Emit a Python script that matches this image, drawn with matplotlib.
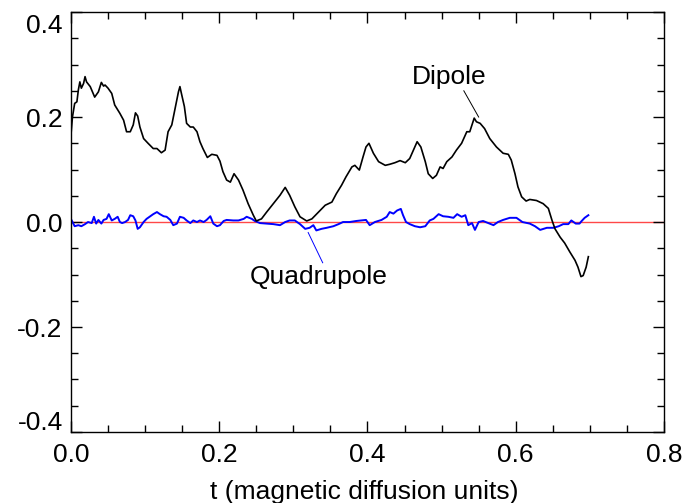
import matplotlib.pyplot as plt
from matplotlib.ticker import MultipleLocator
from matplotlib.transforms import ScaledTranslation

plt.rcParams['font.family'] = ['Liberation Sans', 'DejaVu Sans']

# dipole coefficient vs time
t_dip = [0.000, 0.002, 0.005, 0.008, 0.010, 0.012, 0.014, 0.017, 0.019, 0.021,
         0.026, 0.032, 0.037, 0.041, 0.044, 0.046, 0.050, 0.055, 0.059, 0.066,
         0.071, 0.075, 0.080, 0.084, 0.087, 0.090, 0.093, 0.098, 0.104, 0.111,
         0.116, 0.122, 0.127, 0.131, 0.136, 0.140, 0.145, 0.147, 0.149, 0.153,
         0.156, 0.161, 0.165, 0.170, 0.174, 0.178, 0.184, 0.190, 0.197, 0.201,
         0.205, 0.210, 0.215, 0.220, 0.226, 0.232, 0.239, 0.246, 0.250, 0.257,
         0.264, 0.273, 0.282, 0.289, 0.295, 0.302, 0.309, 0.318, 0.325, 0.334,
         0.343, 0.352, 0.358, 0.365, 0.371, 0.379, 0.383, 0.389, 0.394, 0.398,
         0.402, 0.408, 0.415, 0.424, 0.430, 0.437, 0.444, 0.451, 0.457, 0.462,
         0.467, 0.472, 0.478, 0.482, 0.488, 0.493, 0.498, 0.502, 0.507, 0.514,
         0.520, 0.527, 0.534, 0.538, 0.541, 0.544, 0.547, 0.552, 0.558, 0.565,
         0.574, 0.583, 0.590, 0.594, 0.599, 0.603, 0.608, 0.614, 0.619, 0.628,
         0.637, 0.644, 0.649, 0.653, 0.660, 0.666, 0.673, 0.680, 0.684, 0.688,
         0.691, 0.695, 0.698]
dipole = [0.166, 0.200, 0.226, 0.229, 0.252, 0.267, 0.255, 0.264, 0.277, 0.267,
          0.258, 0.238, 0.248, 0.266, 0.259, 0.261, 0.255, 0.245, 0.223, 0.207,
          0.194, 0.172, 0.172, 0.185, 0.208, 0.202, 0.181, 0.159, 0.150, 0.140,
          0.140, 0.132, 0.137, 0.172, 0.185, 0.213, 0.248, 0.258, 0.245, 0.220,
          0.188, 0.181, 0.181, 0.172, 0.153, 0.140, 0.123, 0.129, 0.127, 0.116,
          0.096, 0.080, 0.076, 0.092, 0.080, 0.061, 0.035, 0.013, 0.002, 0.006,
          0.019, 0.035, 0.051, 0.066, 0.051, 0.029, 0.010, 0.002, 0.006, 0.019,
          0.032, 0.038, 0.054, 0.070, 0.086, 0.105, 0.108, 0.099, 0.124, 0.143,
          0.150, 0.131, 0.115, 0.108, 0.110, 0.113, 0.117, 0.113, 0.121, 0.137,
          0.153, 0.143, 0.115, 0.092, 0.083, 0.089, 0.105, 0.102, 0.115, 0.124,
          0.137, 0.150, 0.172, 0.172, 0.185, 0.198, 0.191, 0.188, 0.178, 0.159,
          0.143, 0.131, 0.129, 0.118, 0.092, 0.067, 0.048, 0.040, 0.043, 0.041,
          0.035, 0.026, 0.003, -0.013, -0.029, -0.040, -0.057, -0.073, -0.086, -0.104,
          -0.102, -0.086, -0.066]

# quadrupole coefficient vs time
t_quad = [0.001, 0.005, 0.010, 0.014, 0.019, 0.023, 0.028, 0.031, 0.034, 0.037,
          0.041, 0.044, 0.048, 0.051, 0.055, 0.059, 0.063, 0.066, 0.069, 0.073,
          0.077, 0.080, 0.084, 0.087, 0.090, 0.093, 0.098, 0.102, 0.107, 0.111,
          0.116, 0.120, 0.125, 0.129, 0.134, 0.138, 0.143, 0.147, 0.152, 0.156,
          0.161, 0.165, 0.170, 0.174, 0.179, 0.183, 0.188, 0.192, 0.197, 0.201,
          0.206, 0.210, 0.219, 0.226, 0.233, 0.237, 0.244, 0.248, 0.255, 0.264,
          0.273, 0.282, 0.289, 0.295, 0.302, 0.309, 0.316, 0.322, 0.327, 0.331,
          0.338, 0.345, 0.354, 0.361, 0.367, 0.376, 0.385, 0.392, 0.398, 0.403,
          0.410, 0.419, 0.426, 0.430, 0.435, 0.440, 0.445, 0.448, 0.452, 0.457,
          0.464, 0.471, 0.478, 0.484, 0.489, 0.496, 0.502, 0.509, 0.516, 0.521,
          0.527, 0.532, 0.536, 0.541, 0.545, 0.550, 0.556, 0.563, 0.570, 0.576,
          0.583, 0.592, 0.601, 0.609, 0.619, 0.626, 0.633, 0.642, 0.651, 0.658,
          0.664, 0.671, 0.675, 0.681, 0.686, 0.689, 0.693, 0.698]
quadrupole = [0.003, -0.008, -0.006, -0.008, -0.004, 0.000, -0.002, 0.010, -0.003, 0.004,
              -0.003, 0.004, 0.006, 0.015, 0.003, 0.006, 0.010, 0.000, -0.002, 0.000,
              0.004, 0.013, 0.011, 0.003, -0.013, -0.010, 0.000, 0.006, 0.011, 0.015,
              0.019, 0.015, 0.011, 0.010, 0.004, -0.006, -0.003, 0.010, 0.008, 0.003,
              -0.002, 0.003, 0.000, 0.003, 0.000, 0.004, 0.011, -0.003, -0.008, -0.006,
              0.002, 0.004, 0.003, 0.003, 0.006, 0.010, 0.006, 0.002, -0.002, -0.003,
              -0.004, -0.006, 0.000, 0.003, 0.003, -0.004, -0.013, -0.011, -0.006, -0.016,
              -0.013, -0.011, -0.008, -0.004, 0.000, 0.000, 0.002, 0.003, 0.004, -0.006,
              0.000, 0.004, 0.010, 0.019, 0.016, 0.022, 0.025, 0.013, 0.000, -0.004,
              -0.008, -0.010, -0.008, 0.003, 0.006, 0.015, 0.011, 0.010, 0.008, 0.015,
              0.010, 0.013, -0.006, -0.002, -0.015, 0.000, 0.002, -0.002, -0.006, 0.000,
              0.004, 0.008, 0.008, 0.000, -0.003, -0.008, -0.015, -0.011, -0.011, -0.008,
              -0.004, -0.004, 0.003, -0.003, -0.003, 0.002, 0.008, 0.013]

fig = plt.figure(figsize=(6.85, 5.03), dpi=100)
ax = fig.add_axes([0.1036, 0.1412, 0.8657, 0.8348])

ax.axhline(0, color='#ff4848', linewidth=1.0, zorder=1)
ax.plot(t_dip, dipole, color='black', linewidth=1.2, zorder=3)
ax.plot(t_quad, quadrupole, color='#0000ff', linewidth=1.4, zorder=2)

ax.set_xlim(0, 0.8)
ax.set_ylim(-0.4, 0.4)
ax.xaxis.set_major_locator(MultipleLocator(0.2))
ax.xaxis.set_minor_locator(MultipleLocator(0.05))
ax.yaxis.set_major_locator(MultipleLocator(0.2))
ax.yaxis.set_minor_locator(MultipleLocator(0.05))
ax.xaxis.set_major_formatter(plt.FormatStrFormatter('%.1f'))
ax.yaxis.set_major_formatter(plt.FormatStrFormatter('%.1f'))
ax.tick_params(which='both', direction='in', top=True, right=True, labelsize=19, width=1)
ax.tick_params(which='major', length=8)
ax.tick_params(which='minor', length=5)
ax.tick_params(axis='x', which='major', pad=8)
ax.tick_params(axis='y', which='major', pad=6)
for s in ax.spines.values():
    s.set_linewidth(1.0)

# IDL puts the end labels of the y axis inside the axis range
yt = ax.yaxis.get_major_ticks()
fig.canvas.draw()
for tk in yt:
    lab = tk.label1
    if lab.get_text() == '0.4':
        lab.set_transform(lab.get_transform() + ScaledTranslation(0, -8 / 72, fig.dpi_scale_trans))
    elif lab.get_text() == '-0.4':
        lab.set_transform(lab.get_transform() + ScaledTranslation(0, 8 / 72, fig.dpi_scale_trans))

fig.text(364 / 685, 4 / 503, 't (magnetic diffusion units)', fontsize=19,
         ha='center', va='baseline')

# labels with leader lines
ax.plot([0.530, 0.550], [0.250, 0.200], color='black', linewidth=0.7)
ax.text(0.510, 0.2625, 'Dipole', fontsize=19, ha='center', va='baseline')
ax.plot([0.320, 0.3396], [-0.020, -0.0776], color='#0000ff', linewidth=0.7)
ax.text(0.334, -0.1177, 'Quadrupole', fontsize=19, ha='center', va='baseline')

fig.savefig('out.png', dpi=100)
